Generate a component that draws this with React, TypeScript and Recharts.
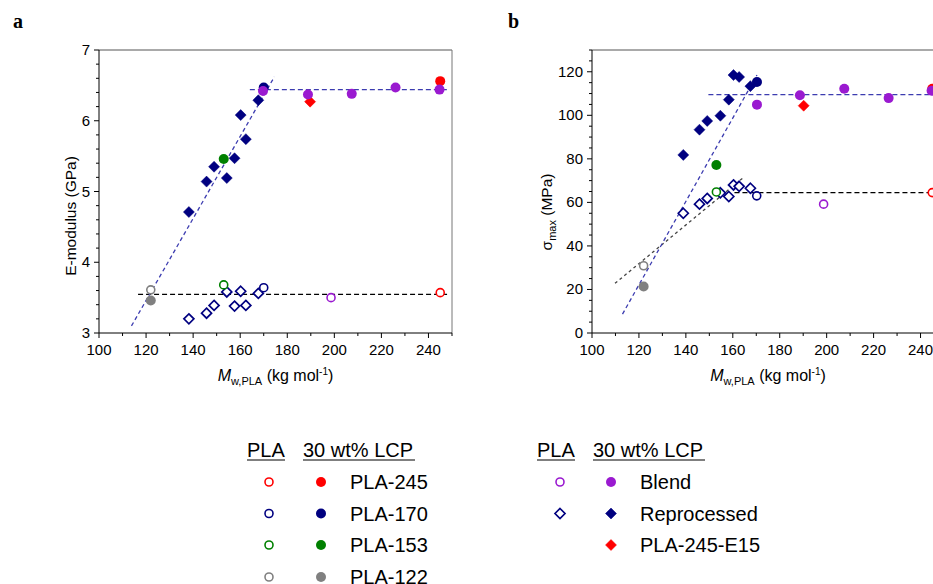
import React from 'react';
import { ScatterChart, Scatter, XAxis, YAxis, ReferenceLine } from 'recharts';

const FONT = '"Liberation Sans", Arial, sans-serif';
const RED = '#ff0000';
const NAVY = '#000080';
const GREEN = '#008000';
const GRAY = '#808080';
const PURPLE = '#9a1ad0';
const BLUE_FIT = '#3c3cb0';

// axis ticks (minor + major)
const xTicks = [100, 110, 120, 130, 140, 150, 160, 170, 180, 190, 200, 210, 220, 230, 240, 250];
const aYTicks = [3, 3.2, 3.4, 3.6, 3.8, 4, 4.2, 4.4, 4.6, 4.8, 5, 5.2, 5.4, 5.6, 5.8, 6, 6.2, 6.4, 6.6, 6.8, 7];
const bYTicks = [0, 5, 10, 15, 20, 25, 30, 35, 40, 45, 50, 55, 60, 65, 70, 75, 80, 85, 90, 95, 100, 105, 110, 115, 120, 125, 130];

// panel a: E-modulus (GPa)
const aReprocessedLcp = [
  { x: 138.2, y: 4.71 }, { x: 145.7, y: 5.14 }, { x: 148.9, y: 5.35 }, { x: 154.3, y: 5.19 },
  { x: 157.6, y: 5.47 }, { x: 160.2, y: 6.08 }, { x: 162.4, y: 5.74 }, { x: 167.7, y: 6.29 },
];
const aReprocessedPla = [
  { x: 138.2, y: 3.2 }, { x: 145.7, y: 3.28 }, { x: 148.9, y: 3.39 }, { x: 154.3, y: 3.58 },
  { x: 157.6, y: 3.38 }, { x: 160.2, y: 3.59 }, { x: 162.4, y: 3.39 }, { x: 167.7, y: 3.56 },
];
const aBlendLcp = [{ x: 169.7, y: 6.42 }, { x: 188.8, y: 6.37 }, { x: 207.4, y: 6.38 }, { x: 226, y: 6.47 }, { x: 244.7, y: 6.44 }];
const aBlendPla = [{ x: 198.6, y: 3.5 }];
const aPla245Lcp = [{ x: 245, y: 6.56 }];
const aPla245Pla = [{ x: 245, y: 3.57 }];
const aPla170Lcp = [{ x: 170, y: 6.47 }];
const aPla170Pla = [{ x: 170, y: 3.64 }];
const aPla153Lcp = [{ x: 153, y: 5.46 }];
const aPla153Pla = [{ x: 153, y: 3.68 }];
const aPla122Lcp = [{ x: 122, y: 3.46 }];
const aPla122Pla = [{ x: 122, y: 3.61 }];
const aE15 = [{ x: 189.7, y: 6.27 }];
const aFitPla = [{ x: 116.6, y: 3.545 }, { x: 248.5, y: 3.545 }];
const aFitLcpSlope = [{ x: 113.8, y: 3.1 }, { x: 174.5, y: 6.62 }];
const aFitLcpFlat = [{ x: 164.1, y: 6.44 }, { x: 248.5, y: 6.44 }];

// panel b: sigma max (MPa)
const bReprocessedLcp = [
  { x: 138.9, y: 81.8 }, { x: 145.8, y: 93.4 }, { x: 149.1, y: 97.4 }, { x: 154.7, y: 99.8 },
  { x: 158.3, y: 107.2 }, { x: 160.3, y: 118.5 }, { x: 162.7, y: 117.6 }, { x: 167.5, y: 113.4 },
];
const bReprocessedPla = [
  { x: 138.9, y: 55 }, { x: 145.8, y: 59.2 }, { x: 149.1, y: 61.8 }, { x: 154.7, y: 64.4 },
  { x: 158.3, y: 62.7 }, { x: 160.3, y: 68 }, { x: 162.7, y: 67.4 }, { x: 167.5, y: 66.5 },
];
const bBlendLcp = [{ x: 170.3, y: 104.9 }, { x: 188.6, y: 109.2 }, { x: 207.5, y: 112.2 }, { x: 226.4, y: 107.9 }, { x: 244.7, y: 111.3 }];
const bBlendPla = [{ x: 198.7, y: 59.2 }];
const bPla245Lcp = [{ x: 245, y: 112.2 }];
const bPla245Pla = [{ x: 245, y: 64.5 }];
const bPla170Lcp = [{ x: 170.3, y: 115.3 }];
const bPla170Pla = [{ x: 170.2, y: 63 }];
const bPla153Lcp = [{ x: 153, y: 77.2 }];
const bPla153Pla = [{ x: 153, y: 64.8 }];
const bPla122Lcp = [{ x: 122, y: 21.4 }];
const bPla122Pla = [{ x: 122, y: 30.9 }];
const bE15 = [{ x: 190.2, y: 104.4 }];
const bFitLcpSlope = [{ x: 113, y: 8.7 }, { x: 170.3, y: 118.5 }];
const bFitLcpFlat = [{ x: 149.6, y: 109.5 }, { x: 250, y: 109.5 }];
const bFitPlaSlope = [{ x: 109.8, y: 22.8 }, { x: 164.5, y: 71.4 }];
const bFitPlaFlat = [{ x: 160.7, y: 64.5 }, { x: 250, y: 64.5 }];

// legend
const legendLeft = [
  { label: 'PLA-245', color: RED },
  { label: 'PLA-170', color: NAVY },
  { label: 'PLA-153', color: GREEN },
  { label: 'PLA-122', color: GRAY },
];
const legendRight = [
  { label: 'Blend', color: PURPLE, shape: 'circle', open: true },
  { label: 'Reprocessed', color: NAVY, shape: 'diamond', open: true },
  { label: 'PLA-245-E15', color: RED, shape: 'diamond', open: false },
];

const TICK_SIZE = 6;
const TICK_MARGIN = 3;

type MarkerProps = { cx: number; cy: number; kind: string; color: string; open: boolean };

const Marker = ({ cx, cy, kind, color, open }: MarkerProps) => {
  if (cx == null || cy == null) return null;
  if (kind === 'diamond') {
    const s = open ? 5 : 5.5;
    const pts = `${cx},${cy - s} ${cx + s},${cy} ${cx},${cy + s} ${cx - s},${cy}`;
    return open ? (
      <polygon points={pts} fill="#fff" stroke={color} strokeWidth={1.7} />
    ) : (
      <polygon points={pts} fill={color} stroke={color} strokeWidth={0.5} />
    );
  }
  return open ? (
    <circle cx={cx} cy={cy} r={4} fill="#fff" stroke={color} strokeWidth={1.6} />
  ) : (
    <circle cx={cx} cy={cy} r={5} fill={color} />
  );
};

const xTick = (props: any) => {
  const { x, y, payload } = props;
  const axisY = y - TICK_SIZE - TICK_MARGIN;
  const major = payload.value % 20 === 0;
  return (
    <g>
      <line x1={x} x2={x} y1={axisY} y2={axisY + (major ? 5 : 3)} stroke="#000" />
      {major && (
        <text x={x} y={axisY + 22} textAnchor="middle" fontSize={15} fontFamily={FONT} fill="#000">
          {payload.value}
        </text>
      )}
    </g>
  );
};

const makeYTick = (isMajor: (v: number) => boolean) => (props: any) => {
  const { x, y, payload } = props;
  const axisX = x + TICK_SIZE + TICK_MARGIN;
  const major = isMajor(payload.value);
  return (
    <g>
      <line x1={axisX} x2={axisX - (major ? 5 : 3)} y1={y} y2={y} stroke="#000" />
      {major && (
        <text x={axisX - 9} y={y + 5} textAnchor="end" fontSize={15} fontFamily={FONT} fill="#000">
          {payload.value}
        </text>
      )}
    </g>
  );
};

const series = (data: { x: number; y: number }[], kind: string, color: string, open: boolean, key: string) => (
  <Scatter
    key={key}
    data={data}
    isAnimationActive={false}
    shape={(p: any) => <Marker cx={p.cx} cy={p.cy} kind={kind} color={color} open={open} />}
  />
);

const fit = (seg: { x: number; y: number }[], color: string, dash: string, key: string) => (
  <ReferenceLine
    key={key}
    segment={[seg[0], seg[1]]}
    stroke={color}
    strokeWidth={1.3}
    strokeDasharray={dash}
  />
);

const XTitle = ({ cx }: { cx: number }) => (
  <text x={cx} y={381} textAnchor="middle" fontSize={16} fontFamily={FONT} fill="#000">
    <tspan fontStyle="italic">M</tspan>
    <tspan fontSize={11} dy={4}>w,PLA</tspan>
    <tspan dy={-4}> (kg mol</tspan>
    <tspan fontSize={10} dy={-6}>-1</tspan>
    <tspan dy={6}>)</tspan>
  </text>
);

const PanelA = () => (
  <ScatterChart width={470} height={400} margin={{ top: 50, right: 18, bottom: 7, left: 39 }}>
    <XAxis
      type="number" dataKey="x" domain={[100, 250]} ticks={xTicks} interval={0}
      tickLine={false} tickSize={TICK_SIZE} tickMargin={TICK_MARGIN} tick={xTick}
      axisLine={{ stroke: '#000' }} height={60}
    />
    <YAxis
      type="number" dataKey="y" domain={[3, 7]} ticks={aYTicks} interval={0}
      tickLine={false} tickSize={TICK_SIZE} tickMargin={TICK_MARGIN}
      tick={makeYTick((v) => Number.isInteger(v))} axisLine={{ stroke: '#000' }} width={60}
    />
    <ReferenceLine y={7} stroke="#555" />
    <ReferenceLine x={250} stroke="#777" />
    {fit(aFitPla, '#000', '5 3', 'f1')}
    {fit(aFitLcpSlope, BLUE_FIT, '4 3', 'f2')}
    {fit(aFitLcpFlat, BLUE_FIT, '5 3', 'f3')}
    {series(aReprocessedPla, 'diamond', NAVY, true, 's1')}
    {series(aPla170Pla, 'circle', NAVY, true, 's2')}
    {series(aPla153Pla, 'circle', GREEN, true, 's3')}
    {series(aPla122Pla, 'circle', GRAY, true, 's4')}
    {series(aPla245Pla, 'circle', RED, true, 's5')}
    {series(aBlendPla, 'circle', PURPLE, true, 's6')}
    {series(aPla122Lcp, 'circle', GRAY, false, 's7')}
    {series(aReprocessedLcp, 'diamond', NAVY, false, 's8')}
    {series(aPla153Lcp, 'circle', GREEN, false, 's9')}
    {series(aE15, 'diamond', RED, false, 's10')}
    {series(aPla245Lcp, 'circle', RED, false, 's11')}
    {series(aPla170Lcp, 'circle', NAVY, false, 's12')}
    {series(aBlendLcp, 'circle', PURPLE, false, 's13')}
    <text x={13} y={28} fontSize={20} fontWeight="bold" fontFamily='"Liberation Serif", "Times New Roman", serif'>a</text>
    <text transform="translate(76,216) rotate(-90)" textAnchor="middle" fontSize={15.5} fontFamily={FONT} fill="#000">
      E-modulus (GPa)
    </text>
    <XTitle cx={275.5} />
  </ScatterChart>
);

const PanelB = () => (
  <ScatterChart width={480} height={400} margin={{ top: 50, right: 28, bottom: 7, left: 40 }}>
    <XAxis
      type="number" dataKey="x" domain={[100, 250]} ticks={xTicks} interval={0}
      tickLine={false} tickSize={TICK_SIZE} tickMargin={TICK_MARGIN} tick={xTick}
      axisLine={{ stroke: '#000' }} height={60}
    />
    <YAxis
      type="number" dataKey="y" domain={[0, 130]} ticks={bYTicks} interval={0}
      tickLine={false} tickSize={TICK_SIZE} tickMargin={TICK_MARGIN}
      tick={makeYTick((v) => v % 20 === 0)} axisLine={{ stroke: '#000' }} width={60}
    />
    <ReferenceLine y={130} stroke="#555" />
    {fit(bFitPlaSlope, '#444', '3 3', 'f1')}
    {fit(bFitPlaFlat, '#000', '5 3', 'f2')}
    {fit(bFitLcpSlope, BLUE_FIT, '4 3', 'f3')}
    {fit(bFitLcpFlat, BLUE_FIT, '5 3', 'f4')}
    {series(bReprocessedPla, 'diamond', NAVY, true, 's1')}
    {series(bPla170Pla, 'circle', NAVY, true, 's2')}
    {series(bPla153Pla, 'circle', GREEN, true, 's3')}
    {series(bPla122Pla, 'circle', GRAY, true, 's4')}
    {series(bPla245Pla, 'circle', RED, true, 's5')}
    {series(bBlendPla, 'circle', PURPLE, true, 's6')}
    {series(bPla122Lcp, 'circle', GRAY, false, 's7')}
    {series(bReprocessedLcp, 'diamond', NAVY, false, 's8')}
    {series(bPla153Lcp, 'circle', GREEN, false, 's9')}
    {series(bE15, 'diamond', RED, false, 's10')}
    {series(bPla245Lcp, 'circle', RED, false, 's11')}
    {series(bPla170Lcp, 'circle', NAVY, false, 's12')}
    {series(bBlendLcp, 'circle', PURPLE, false, 's13')}
    <text x={16} y={28} fontSize={20} fontWeight="bold" fontFamily='"Liberation Serif", "Times New Roman", serif'>b</text>
    <text transform="translate(60,212) rotate(-90)" textAnchor="middle" fontSize={15.5} fontFamily={FONT} fill="#000">
      <tspan>σ</tspan>
      <tspan fontSize={11} dy={4}>max</tspan>
      <tspan dy={-4}> (MPa)</tspan>
    </text>
    <XTitle cx={276} />
  </ScatterChart>
);

const ROW_Y = [482, 513.5, 545, 577];

const Header = ({ x1, x2 }: { x1: number; x2: number }) => (
  <g fontSize={20} fontFamily={FONT} fill="#000">
    <text x={x1} y={457}>PLA</text>
    <line x1={x1} x2={x1 + 38} y1={460} y2={460} stroke="#000" strokeWidth={1.2} />
    <text x={x2} y={457}>30 wt% LCP</text>
    <line x1={x2} x2={x2 + 112} y1={460} y2={460} stroke="#000" strokeWidth={1.2} />
  </g>
);

const LegendBlock = () => (
  <svg width={933} height={584} style={{ position: 'absolute', left: 0, top: 0 }}>
    <Header x1={247} x2={303} />
    {legendLeft.map((e, i) => (
      <g key={e.label}>
        <Marker cx={269} cy={ROW_Y[i]} kind="circle" color={e.color} open />
        <Marker cx={321} cy={ROW_Y[i]} kind="circle" color={e.color} open={false} />
        <text x={350} y={ROW_Y[i] + 7} fontSize={20} fontFamily={FONT} fill="#000">{e.label}</text>
      </g>
    ))}
    <Header x1={537} x2={593} />
    {legendRight.map((e, i) => (
      <g key={e.label}>
        {e.open && <Marker cx={560} cy={ROW_Y[i]} kind={e.shape} color={e.color} open />}
        <Marker cx={611} cy={ROW_Y[i]} kind={e.shape} color={e.color} open={false} />
        <text x={640} y={ROW_Y[i] + 7} fontSize={20} fontFamily={FONT} fill="#000">{e.label}</text>
      </g>
    ))}
  </svg>
);

export default function App() {
  return (
    <div style={{ position: 'absolute', left: 0, top: 0, width: 933, height: 584, overflow: 'hidden', background: '#fff' }}>
      <div style={{ position: 'absolute', left: 0, top: 0 }}>
        <PanelA />
      </div>
      <div style={{ position: 'absolute', left: 492, top: 0 }}>
        <PanelB />
      </div>
      <LegendBlock />
    </div>
  );
}
